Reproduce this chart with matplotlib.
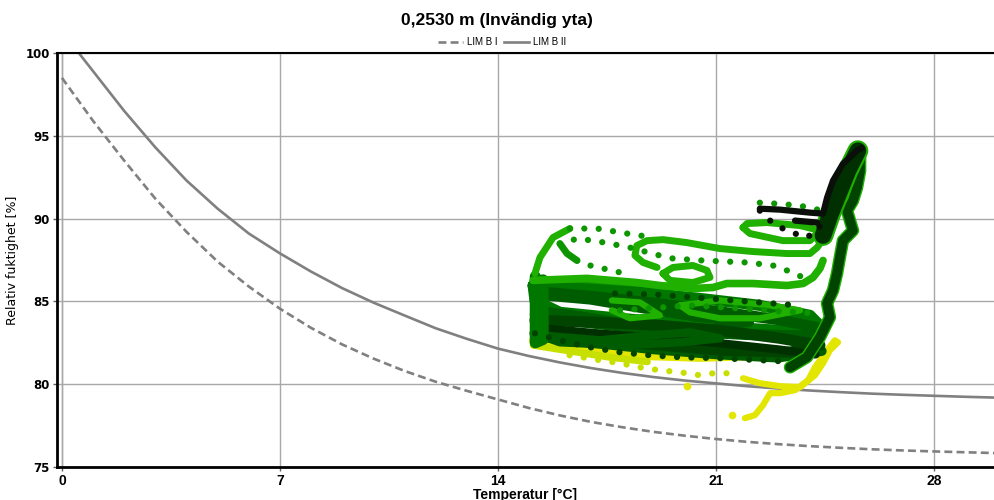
import matplotlib

matplotlib.use("Agg")
import matplotlib.pyplot as plt
from matplotlib import font_manager

NARROW = ["Liberation Sans Narrow", "Liberation Sans", "DejaVu Sans"]

# limit curves, every degree
lim_t = list(range(0, 31))
lim_b1 = [98.5, 95.9, 93.5, 91.2, 89.2, 87.4, 85.9, 84.56, 83.4, 82.4, 81.55, 80.8, 80.15, 79.6, 79.08,
          78.56, 78.11, 77.72, 77.40, 77.12, 76.89, 76.69, 76.52, 76.38, 76.26, 76.16, 76.07, 76.0, 75.94,
          75.89, 75.84]
lim_b2 = [101.3, 98.9, 96.5, 94.3, 92.3, 90.6, 89.1, 87.9, 86.8, 85.8, 84.93, 84.15, 83.38, 82.74, 82.15,
          81.70, 81.31, 80.97, 80.68, 80.43, 80.22, 80.05, 79.88, 79.74, 79.62, 79.52, 79.43, 79.36, 79.30,
          79.24, 79.19]

# measured points, one trace per list pair (temperature, RH)
yel_band_t = [15.13, 15.99, 17.28, 18.88, 20.49, 22.09, 23.70]
yel_band_rh = [82.6, 82.3, 81.95, 81.7, 81.6, 81.7, 81.9]
yel_band2_t = [15.13, 16.31, 17.5, 18.8]
yel_band2_rh = [82.35, 82.0, 81.65, 81.35]
yel_dots_t = [16.3, 17.28, 17.92, 18.56, 19.20, 19.85, 20.49, 21.13, 21.77]
yel_dots_rh = [81.75, 81.45, 81.27, 81.02, 80.84, 80.72, 80.54, 80.72, 80.54]
yel_tail_t = [21.87, 22.41, 23.06, 23.70, 24.18, 24.44, 24.66, 24.92, 24.82, 24.57, 24.18, 23.96, 23.54, 23.06, 22.74, 22.51, 22.25, 21.93]
yel_tail_rh = [80.36, 80.06, 79.88, 79.82, 80.54, 81.27, 82.05, 82.53, 82.65, 82.05, 81.02, 80.24, 79.64, 79.46, 79.46, 78.73, 78.13, 77.95]
yel_single_t = [20.07, 21.52]
yel_single_rh = [79.88, 78.13]

band1_t = [15.13, 16.63, 18.56, 20.49, 22.41, 24.02, 24.34, 23.06, 20.49, 17.92, 15.99, 15.19, 15.13]
band1_rh = [85.96, 85.78, 85.54, 85.18, 84.76, 84.16, 83.55, 83.25, 83.55, 83.98, 84.34, 85.06, 85.96]
band2_t = [15.19, 17.28, 19.20, 21.13, 23.06, 24.34, 23.38, 21.13, 18.56, 16.31, 15.19]
band2_rh = [83.86, 83.73, 83.55, 83.25, 82.77, 82.35, 81.93, 82.05, 82.47, 82.83, 83.07]
band3_t = [15.19, 16.96, 18.88, 20.49, 22.09, 20.49, 18.56, 16.63, 15.35]
band3_rh = [85.36, 85.06, 84.46, 83.98, 83.73, 83.25, 83.55, 84.16, 84.46]
band4_t = [15.35, 17.28, 18.88, 20.17, 21.13, 19.85, 17.92, 15.99, 15.35]
band4_rh = [82.95, 82.65, 82.95, 83.13, 82.77, 82.53, 82.35, 82.53, 82.95]
band7_t = [15.2, 17.0, 19.0, 21.0, 23.0, 24.3, 24.0, 22.0, 20.0, 18.0, 16.0, 15.2]
band7_rh = [85.6, 85.3, 84.9, 84.4, 83.9, 83.4, 82.9, 83.0, 83.2, 83.5, 83.9, 84.2]
band8_t = [15.2, 16.5, 18.0, 19.5]
band8_rh = [86.2, 86.0, 85.8, 85.6]
band9_t = [15.3, 17.0, 19.0, 21.0, 23.0, 24.2]
band9_rh = [83.4, 83.1, 82.8, 82.5, 82.1, 81.8]
band10_t = [15.2, 17.0, 19.0, 21.0, 23.0, 24.4]
band10_rh = [82.9, 82.5, 82.1, 81.8, 81.6, 82.0]
edge_t = [15.2, 15.2, 15.45, 15.45]
edge_rh = [86.5, 82.5, 82.7, 86.3]
band5_t = [19.85, 21.13, 22.74, 23.70, 22.41, 21.13, 20.17, 19.85]
band5_rh = [84.76, 85.06, 84.76, 84.46, 83.98, 83.98, 84.34, 84.76]
band6_t = [17.66, 18.56, 19.20, 18.24, 17.66]
band6_rh = [85.06, 84.94, 84.16, 83.98, 84.46]
top_edge_t = [15.13, 16.86, 18.46, 19.20, 20.26, 20.91, 21.35, 22.19, 23.28, 23.80, 24.12, 24.34, 24.44]
top_edge_rh = [86.27, 86.39, 86.14, 85.96, 85.78, 85.84, 86.08, 86.08, 85.96, 86.08, 86.45, 86.99, 87.47]

dots1_t = [17.76, 19.04, 20.30, 21.55, 22.80, 23.64]
dots1_rh = [85.48, 85.42, 85.24, 85.06, 84.88, 84.76]
dots2_t = [15.19, 15.99, 16.96, 17.92, 18.88, 19.85, 21.13, 22.41, 23.70]
dots2_rh = [83.07, 82.65, 82.23, 81.93, 81.75, 81.63, 81.57, 81.45, 81.33]
dots3_t = [17.92, 20.17, 21.77, 23.06, 24.28]
dots3_rh = [84.46, 84.76, 84.58, 84.40, 84.28]

loop_a_t = [15.19, 15.35, 15.77, 16.31]
loop_a_rh = [86.69, 87.65, 88.86, 89.40]
loop_a_dots_t = [16.31, 17.18, 18.14, 18.98]
loop_a_dots_rh = [89.40, 89.40, 89.10, 88.86]
loop_c_t = [19.11, 18.66, 18.40, 18.46, 18.79, 19.30, 20.07, 21.13, 22.19, 23.28, 24.02, 24.25, 24.57]
loop_c_rh = [87.05, 87.35, 87.77, 88.37, 88.67, 88.73, 88.55, 88.19, 88.01, 87.89, 87.89, 88.25, 89.10]
loop_b_t = [15.99, 16.57, 17.44, 18.24, 19.20, 19.62, 20.58, 22.00, 22.83, 23.28, 23.80]
loop_b_rh = [88.49, 88.80, 88.55, 88.25, 87.77, 87.59, 87.47, 87.35, 87.17, 86.87, 86.45]
loop_b_low_t = [15.99, 16.22, 16.54]
loop_b_low_rh = [88.49, 87.89, 87.47]
loop_b_low_dots_t = [16.54, 16.96, 17.37, 17.92]
loop_b_low_dots_rh = [87.47, 87.17, 86.99, 86.75]
loop_d_t = [19.30, 19.62, 20.26, 20.71, 20.81, 20.26, 19.52, 19.30]
loop_d_rh = [86.69, 87.05, 87.17, 86.87, 86.45, 86.14, 86.27, 86.69]

ring_t = [21.87, 22.09, 23.15, 24.02, 24.34, 23.70, 22.64, 22.00, 21.87]
ring_rh = [89.46, 89.10, 88.67, 88.67, 89.28, 89.58, 89.76, 89.70, 89.46]
ring_dots_t = [22.41, 22.96, 23.70, 24.12, 24.44]
ring_dots_rh = [90.96, 90.90, 90.78, 90.60, 90.48]
column_t = [24.44, 24.66, 24.92, 25.24, 25.56]
column_rh = [88.98, 90.18, 91.39, 92.89, 94.10]
zigzag_t = [25.63, 25.63, 25.53, 25.40, 25.21, 25.40, 25.08, 24.98, 24.89, 24.76, 24.57, 24.66, 24.34, 23.92, 23.38]
zigzag_rh = [94.10, 92.89, 91.87, 91.08, 90.48, 89.28, 88.67, 87.65, 86.69, 85.66, 84.88, 84.04, 82.83, 81.63, 81.02]
black_up_t = [22.41, 23.06, 24.02, 24.44, 24.57, 24.76, 25.08, 25.53, 25.69]
black_up_rh = [90.60, 90.54, 90.36, 90.30, 91.27, 92.29, 93.31, 94.10, 94.28]
black_low_t = [22.41, 22.74, 23.15, 23.54, 23.86, 24.18, 24.41]
black_low_rh = [90.48, 89.88, 89.40, 89.10, 88.86, 89.10, 89.76]
black_mid_t = [23.54, 24.25]
black_mid_rh = [89.88, 89.76]

YEL = "#e2e600"
YGR = "#c8e000"
G1 = "#1fb000"
G2 = "#0e9600"
G3 = "#007800"
G4 = "#005c00"
G5 = "#004400"
G6 = "#003000"
BLK = "#0a0f0a"

DOT = (0, (0.01, 2.3))


def trace(ax, t, rh, color, lw=5.0, dotted=False, z=3):
    if dotted:
        ax.plot(t, rh, color=color, lw=lw, ls=DOT, dash_capstyle="round", zorder=z)
    else:
        ax.plot(t, rh, color=color, lw=lw, solid_capstyle="round", solid_joinstyle="round", zorder=z)


fig = plt.figure(figsize=(9.94, 5.0), dpi=100)
ax = fig.add_axes([0.0573, 0.066, 0.9427, 0.828])

ax.set_xlim(-0.16, 29.93)
ax.set_ylim(75, 100)
ax.set_xticks([0, 7, 14, 21, 28])
ax.set_yticks([75, 80, 85, 90, 95, 100])
ax.grid(True, color="#a8a8a8", lw=1.0, zorder=0)
ax.axvline(0, color="#a8a8a8", lw=1.0, zorder=0)

l1, = ax.plot(lim_t, lim_b1, color="#808080", lw=1.9, ls=(0, (3.0, 1.6)), label="LIM B I", zorder=2)
l2, = ax.plot(lim_t, lim_b2, color="#808080", lw=1.9, label="LIM B II", zorder=2)

# yellow first
trace(ax, yel_band_t, yel_band_rh, YEL, lw=6)
trace(ax, yel_band2_t, yel_band2_rh, YGR, lw=5)
trace(ax, yel_dots_t, yel_dots_rh, YGR, lw=4.5, dotted=True)
trace(ax, yel_tail_t, yel_tail_rh, YEL, lw=4.5)
ax.plot(yel_single_t, yel_single_rh, "o", color=YEL, ms=4.5, zorder=3)

# dense band
trace(ax, band8_t, band8_rh, G2, lw=7)
trace(ax, band1_t, band1_rh, G3, lw=8)
trace(ax, band7_t, band7_rh, G4, lw=8)
trace(ax, band3_t, band3_rh, G4, lw=6)
trace(ax, band10_t, band10_rh, G4, lw=7)
trace(ax, band2_t, band2_rh, G5, lw=8)
trace(ax, band9_t, band9_rh, G6, lw=6)
trace(ax, band4_t, band4_rh, G4, lw=6)
trace(ax, edge_t, edge_rh, G3, lw=8)
trace(ax, band5_t, band5_rh, G1, lw=4.5)
trace(ax, band6_t, band6_rh, G1, lw=4.5)
trace(ax, top_edge_t, top_edge_rh, G1, lw=5.5)
trace(ax, dots1_t, dots1_rh, G5, lw=4.5, dotted=True)
trace(ax, dots2_t, dots2_rh, G5, lw=4.5, dotted=True)
trace(ax, dots3_t, dots3_rh, G2, lw=4.5, dotted=True)

# upper loops
trace(ax, loop_a_t, loop_a_rh, G1, lw=5)
trace(ax, loop_a_dots_t, loop_a_dots_rh, G2, lw=4.5, dotted=True)
trace(ax, loop_c_t, loop_c_rh, G1, lw=5)
trace(ax, loop_b_t, loop_b_rh, G2, lw=4.5, dotted=True)
trace(ax, loop_b_low_t, loop_b_low_rh, G2, lw=5)
trace(ax, loop_b_low_dots_t, loop_b_low_dots_rh, G2, lw=4.5, dotted=True)
trace(ax, loop_d_t, loop_d_rh, G1, lw=5)

# right structure
trace(ax, zigzag_t, zigzag_rh, G1, lw=9)
trace(ax, zigzag_t, zigzag_rh, G5, lw=7)
trace(ax, ring_t, ring_rh, G1, lw=5)
trace(ax, ring_dots_t, ring_dots_rh, G2, lw=4.5, dotted=True)
trace(ax, column_t, column_rh, G1, lw=15)
trace(ax, column_t, column_rh, G6, lw=12)
trace(ax, black_up_t, black_up_rh, BLK, lw=4.5)
trace(ax, black_low_t, black_low_rh, BLK, lw=4.5, dotted=True)
trace(ax, black_mid_t, black_mid_rh, BLK, lw=4.5)

for side in ("left", "bottom"):
    ax.spines[side].set_linewidth(2.0)
    ax.spines[side].set_color("black")
ax.spines["top"].set_linewidth(1.5)
ax.spines["right"].set_visible(False)
ax.tick_params(axis="both", length=3, width=1, color="#606060", pad=2)

for lbl in ax.get_xticklabels():
    lbl.set_fontfamily(NARROW)
    lbl.set_fontweight("bold")
    lbl.set_fontsize(10)
for lbl in ax.get_yticklabels():
    lbl.set_fontfamily(["DejaVu Sans"])
    lbl.set_fontweight("bold")
    lbl.set_fontsize(8.5)

ax.set_xlabel("Temperatur [°C]", family=NARROW, fontweight="bold", fontsize=10, labelpad=0)
ax.set_ylabel("Relativ fuktighet [%]", family=["DejaVu Sans"], fontsize=9, labelpad=5)
fig.suptitle("0,2530 m (Invändig yta)", family=NARROW, fontweight="bold", fontsize=12.5, y=0.975)

ax.legend(handles=[l1, l2], loc="lower center", bbox_to_anchor=(0.475, 1.0), ncol=2, frameon=False,
          prop=font_manager.FontProperties(family=NARROW, size=7), handlelength=2.6, columnspacing=0.6,
          handletextpad=0.4, borderpad=0.1)

fig.savefig("out.png", dpi=100)
